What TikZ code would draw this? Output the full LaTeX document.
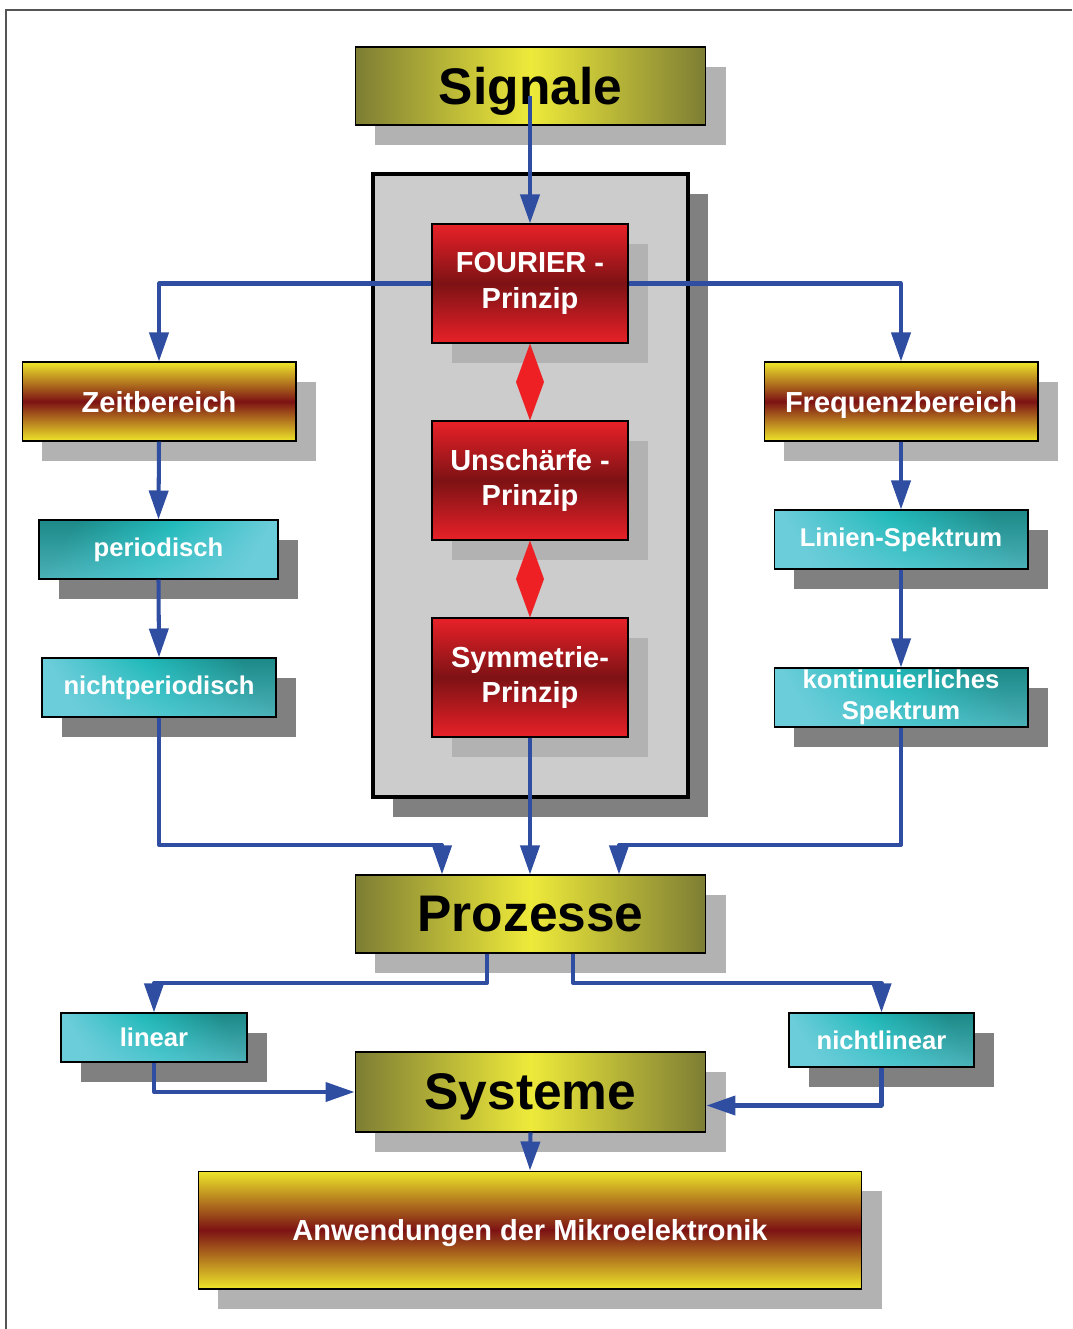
\documentclass[tikz,border=0pt]{standalone}
\usepackage{fontspec}
\setmainfont{Liberation Sans}
\usetikzlibrary{arrows.meta,shadows,calc,fadings}
\definecolor{connc}{RGB}{47,78,162}
\definecolor{olived}{RGB}{125,125,52}
\definecolor{olivel}{RGB}{238,234,58}
\definecolor{redl}{RGB}{232,33,40}
\definecolor{redd}{RGB}{125,18,20}
\definecolor{yel}{RGB}{238,230,42}
\definecolor{tealL}{RGB}{108,205,218}
\definecolor{tealM}{RGB}{32,186,186}
\definecolor{tealD}{RGB}{28,138,136}
\definecolor{shadowL}{RGB}{178,178,178}
\definecolor{shadowD}{RGB}{128,128,128}
\definecolor{panelfill}{RGB}{204,204,204}
\definecolor{framegray}{RGB}{85,85,85}
\definecolor{dblred}{RGB}{238,32,36}
\begin{document}
\begin{tikzpicture}[x=0.02cm,y=-0.02cm,
  box/.style={draw=black, line width=0.6pt, inner sep=0pt, align=center},
  shL/.style={general shadow={fill=shadowL, shadow xshift=0.4cm, shadow yshift=-0.4cm}},
  shD/.style={general shadow={fill=shadowD, shadow xshift=0.4cm, shadow yshift=-0.4cm}},
  olivebox/.style={box, shL, left color=olived, right color=olived, middle color=olivel,
    font=\fontsize{29.3}{35}\selectfont\bfseries, text=black, minimum width=7.02cm, text depth=0pt},
  redbox/.style={box, shL, top color=redl, bottom color=redl, middle color=redd,
    font=\fontsize{16.5}{20.4}\selectfont\bfseries, text=white, minimum width=3.92cm, minimum height=2.38cm},
  yrbox/.style={box, shL, top color=yel, bottom color=yel, middle color=redd,
    font=\fontsize{16.5}{20.4}\selectfont\bfseries, text=white, text depth=0pt},
  tealfade/.style={path picture={\fill[tealL, path fading=north, fill opacity=0.6]
    (path picture bounding box.south west) rectangle (path picture bounding box.north east);}},
  tealA/.style={box, shD, left color=tealD, right color=tealL, middle color=tealM, shading angle=60,
    tealfade, font=\fontsize{14.6}{17.6}\selectfont\bfseries, text=white},
  tealB/.style={box, shD, left color=tealL, right color=tealD, middle color=tealM, shading angle=120,
    tealfade, font=\fontsize{14.6}{17.6}\selectfont\bfseries, text=white},
  conn/.style={draw=connc, line width=2.3pt, line join=round, -{Triangle[length=0.58cm,width=0.38cm]}},
  dbl/.style={fill=dblred}
]
\useasboundingbox (0,0) rectangle (1072,1329);
\draw[framegray, line width=0.05cm] (6,1329) -- (6,10) -- (1072,10);

% panel
\node[draw=black, line width=0.08cm, fill=panelfill, shD, inner sep=0pt,
      minimum width=6.3cm, minimum height=12.46cm] (panel) at (530.5,485.5) {};

% nodes
\node[olivebox, minimum height=1.56cm] (sig) at (530.5,86) {Signale};
\node[redbox] (four) at (530,283.5) {FOURIER -\\Prinzip};
\node[redbox] (unsch) at (530,480.5) {Unschärfe -\\Prinzip};
\node[redbox] (symm) at (530,677.5) {Symmetrie-\\Prinzip};
\node[yrbox, minimum width=5.48cm, minimum height=1.58cm] (zeit) at (159,401.5) {Zeitbereich};
\node[yrbox, minimum width=5.48cm, minimum height=1.58cm] (freq) at (901,401.5) {Frequenzbereich};
\node[tealA, minimum width=4.78cm, minimum height=1.18cm] (per) at (158.5,549.5) {periodisch};
\node[tealB, minimum width=4.68cm, minimum height=1.18cm] (nper) at (159,687.5) {nichtperiodisch};
\node[tealB, minimum width=5.08cm, minimum height=1.18cm] (lin) at (901,539.5) {Linien-Spektrum};
\node[tealB, minimum width=5.08cm, minimum height=1.18cm] (kont) at (901,697.5) {kontinuierliches\\Spektrum};
\node[olivebox, minimum height=1.56cm] (proz) at (530.5,914) {Prozesse};
\node[tealB, minimum width=3.72cm, minimum height=0.98cm] (linear) at (154,1037.5) {linear};
\node[tealB, minimum width=3.70cm, minimum height=1.08cm] (nlin) at (881.5,1040) {nichtlinear};
\node[olivebox, minimum height=1.6cm] (sys) at (530.5,1092) {Systeme};
\node[yrbox, minimum width=13.28cm, minimum height=2.36cm] (anw) at (530,1230) {Anwendungen der Mikroelektronik};

% red double arrows (diamond-shaped double-headed connectors)
\fill[dbl] (four.south) -- ($(four.south)!0.5!(unsch.north)+(14,0)$) -- (unsch.north)
  -- ($(four.south)!0.5!(unsch.north)+(-14,0)$) -- cycle;
\fill[dbl] (unsch.south) -- ($(unsch.south)!0.5!(symm.north)+(14,0)$) -- (symm.north)
  -- ($(unsch.south)!0.5!(symm.north)+(-14,0)$) -- cycle;

% connectors
\coordinate (sigstart) at (530,96);
\draw[conn] (sigstart) -- (four.north);
\draw[conn] (four.west) -| (zeit.north);
\draw[conn] (four.east) -| (freq.north);
\draw[conn] (zeit.south) -- (per.north);
\draw[conn] (per.south) -- (nper.north);
\draw[conn] (freq.south) -- (lin.north);
\draw[conn] (lin.south) -- (kont.north);
\coordinate (pl) at (442,845);
\coordinate (pr) at (619,845);
\draw[conn] (nper.south) |- (pl) -- (pl |- proz.north);
\draw[conn] (kont.south) |- (pr) -- (pr |- proz.north);
\draw[conn] (symm.south) -- (proz.north -| symm.south);
\coordinate (ql) at (487,983);
\coordinate (qr) at (573,983);
\draw[conn] (ql |- proz.south) -- (ql) -| (linear.north);
\draw[conn] (qr |- proz.south) -- (qr) -| (nlin.north);
\draw[conn] (linear.south) |- (sys.west);
\coordinate (se) at ($(sys.east)+(0,13.5)$);
\draw[conn] (nlin.south) |- (se);
\draw[conn] (sys.south) -- (anw.north);
\end{tikzpicture}
\end{document}
